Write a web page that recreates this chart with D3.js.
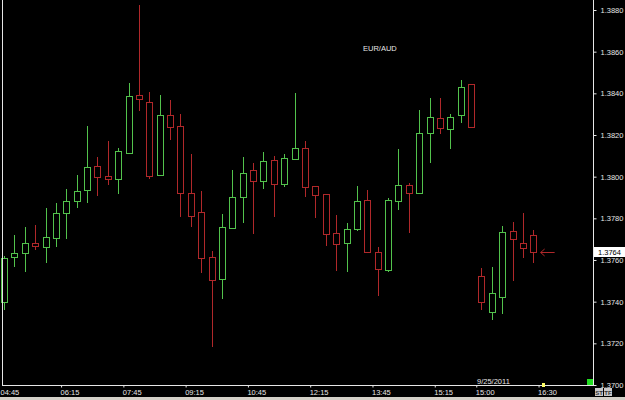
<!DOCTYPE html>
<html lang="en">
<head>
<meta charset="UTF-8"/>
<title>EUR/AUD</title>
<script src="https://d3js.org/d3.v7.min.js"></script>
<style>
    body { margin: 0; background: #000; }
    svg { display: block; }
    .axis text { fill: #e6e6e6; font-family: "Liberation Sans", Arial, sans-serif; font-size: 7.5px; }
    .axis path, .axis line { stroke: #e6e6e6; }
</style>
</head>
<body>
<div id="chart"></div>
<script>
    // 15 minute candles, EUR/AUD
    var opens  = [1.37400,1.37615,1.37635,1.37683,1.37663,1.37707,1.37826,1.37884,1.37937,1.38052,
                  1.38004,1.37989,1.38114,1.38392,1.38359,1.38009,1.38296,1.38244,1.37922,1.37831,
                  1.37615,1.37510,1.37754,1.37903,1.38033,1.37980,1.38081,1.37965,1.38085,1.38138,
                  1.37956,1.37918,1.37730,1.37683,1.37750,1.37889,1.37639,1.37553,1.37884,1.37961,
                  1.37922,1.38210,1.38282,1.38229,1.38296,1.38445,1.37524,1.37352,1.37424,1.37740,
                  1.37683,1.37721];
    var highs  = [1.37620,1.37721,1.37759,1.37769,1.37850,1.37874,1.37942,1.38009,1.38244,1.38095,
                  1.38172,1.38138,1.38450,1.38824,1.38407,1.38392,1.38368,1.38301,1.38109,1.37932,
                  1.37644,1.37822,1.38033,1.38095,1.38066,1.38119,1.38100,1.38109,1.38402,1.38172,
                  1.37956,1.37918,1.37817,1.37778,1.37956,1.37937,1.37663,1.37898,1.38133,1.37970,
                  1.38320,1.38378,1.38378,1.38301,1.38464,1.38445,1.37563,1.37567,1.37764,1.37783,
                  1.37826,1.37745];
    var lows   = [1.37361,1.37567,1.37543,1.37649,1.37587,1.37663,1.37702,1.37850,1.37874,1.37908,
                  1.37961,1.37918,1.38109,1.38316,1.37989,1.38004,1.38177,1.37807,1.37759,1.37539,
                  1.37184,1.37414,1.37750,1.37778,1.37726,1.37942,1.37807,1.37951,1.38085,1.37903,
                  1.37802,1.37668,1.37548,1.37543,1.37740,1.37635,1.37428,1.37543,1.37841,1.37730,
                  1.37918,1.38066,1.38205,1.38133,1.38258,1.38239,1.37361,1.37313,1.37342,1.37500,
                  1.37611,1.37587];
    var closes = [1.37611,1.37635,1.37683,1.37668,1.37711,1.37826,1.37884,1.37932,1.38047,1.37999,
                  1.37989,1.38124,1.38388,1.38373,1.38004,1.38296,1.38239,1.37922,1.37812,1.37611,
                  1.37505,1.37759,1.37903,1.38018,1.37980,1.38076,1.37965,1.38090,1.38138,1.37951,
                  1.37913,1.37726,1.37678,1.37750,1.37884,1.37639,1.37558,1.37889,1.37961,1.37922,
                  1.38210,1.38287,1.38234,1.38287,1.38431,1.38239,1.37400,1.37443,1.37735,1.37702,
                  1.37659,1.37640];

    var timeLabels = ["04:45","06:15","07:45","09:15","10:45","12:15","13:45","15:15","15:00","16:30"];
    var timeSlots  = [0, 6, 12, 18, 24, 30, 36, 42, 46, 52];
    var priceTicks = [1.3700,1.3720,1.3740,1.3760,1.3780,1.3800,1.3820,1.3840,1.3860,1.3880];
    var lastPrice = 1.3764;
    var title = "EUR/AUD";
    var dateLabel = "9/25/2011";

    var w = 625, h = 400;
    var plotLeft = 2, plotRight = 593, plotBottom = 385;
    var green = "#52c24c", red = "#b0282a";

    var data = opens.map(function(o, i) {
        return {i: i, open: o, high: highs[i], low: lows[i], close: closes[i]};
    });

    var svg = d3.select("#chart").append("svg")
        .attr("width", w).attr("height", h);

    svg.append("rect").attr("width", w).attr("height", h).attr("fill", "#000");

    // slot scale: integer = left edge of a 15 min slot
    var xScale = d3.scaleLinear().domain([0, 57]).range([-1.2, -1.2 + 57 * 10.38]);
    var yScale = d3.scaleLinear().domain([1.3700, 1.3880]).range([385, 10]);

    var snap = function(v) { return Math.round(v) + 0.5; };

    // candles
    var candle = svg.append("g").selectAll("g")
        .data(data).enter().append("g")
        .attr("stroke", function(d) { return d.close >= d.open ? green : red; })
        .attr("fill", "#000");

    candle.append("line")
        .attr("x1", function(d) { return snap(xScale(d.i + 0.5)); })
        .attr("x2", function(d) { return snap(xScale(d.i + 0.5)); })
        .attr("y1", function(d) { return Math.round(yScale(d.high)); })
        .attr("y2", function(d) { return Math.round(yScale(d.low)); });

    candle.append("rect")
        .attr("x", function(d) { return snap(xScale(d.i + 0.5)) - 3; })
        .attr("width", 6)
        .attr("y", function(d) { return snap(yScale(Math.max(d.open, d.close))); })
        .attr("height", function(d) {
            return Math.max(2, Math.round(yScale(Math.min(d.open, d.close)) - yScale(Math.max(d.open, d.close))));
        });

    // left border
    svg.append("line")
        .attr("x1", plotLeft + 0.5).attr("x2", plotLeft + 0.5)
        .attr("y1", 0).attr("y2", plotBottom)
        .attr("stroke", "#e6e6e6");

    // time axis
    var xAxis = d3.axisBottom(xScale)
        .tickValues(timeSlots)
        .tickFormat(function(d, k) { return timeLabels[k]; })
        .tickSize(2)
        .tickPadding(3);
    var gx = svg.append("g")
        .attr("class", "axis")
        .attr("transform", "translate(0," + (plotBottom + 0.5) + ")")
        .call(xAxis);
    gx.select(".domain").attr("d", "M" + plotLeft + ",0H" + plotRight);
    gx.selectAll("text")
        .attr("text-anchor", "start")
        .attr("dx", function(d) { return d === 0 ? 1.2 : -1; })
        .attr("dy", "0.6em");

    // price axis
    var yAxis = d3.axisRight(yScale)
        .tickValues(priceTicks)
        .tickFormat(d3.format(".4f"))
        .tickSize(3)
        .tickPadding(4);
    var gy = svg.append("g")
        .attr("class", "axis")
        .attr("transform", "translate(" + (plotRight + 0.5) + ",0)")
        .call(yAxis);
    gy.select(".domain").attr("d", "M0,0V" + (plotBottom + 1));

    // last price marker
    var yl = Math.round(yScale(lastPrice));
    svg.append("rect")
        .attr("x", 594).attr("y", yl - 5).attr("width", 31).attr("height", 10)
        .attr("fill", "#fff");
    svg.append("text")
        .attr("x", 598).attr("y", yl + 2.7)
        .attr("font-family", "Liberation Sans, Arial, sans-serif")
        .attr("font-size", "7.5px").attr("fill", "#000")
        .text(d3.format(".4f")(lastPrice));

    var ax = xScale(52.2);
    svg.append("path")
        .attr("d", "M" + ax + "," + (yl + 0.5) + "H" + (ax + 14) +
              "M" + (ax + 4) + "," + (yl - 3) + "L" + ax + "," + (yl + 0.5) + "L" + (ax + 4) + "," + (yl + 4))
        .attr("stroke", red).attr("fill", "none");

    // title & date
    svg.append("text")
        .attr("x", 363).attr("y", 51)
        .attr("font-family", "Liberation Sans, Arial, sans-serif")
        .attr("font-size", "7.5px").attr("fill", "#e6e6e6")
        .text(title);
    svg.append("text")
        .attr("x", 477).attr("y", 383.5)
        .attr("font-family", "Liberation Sans, Arial, sans-serif")
        .attr("font-size", "7.5px").attr("fill", "#e6e6e6")
        .text(dateLabel);

    // small status widgets
    svg.append("rect").attr("x", 542).attr("y", 383).attr("width", 3).attr("height", 4).attr("fill", "#ffff66");
    svg.append("rect").attr("x", 587).attr("y", 379).attr("width", 6).attr("height", 6).attr("fill", "#22dd22");

    var boxes = [{t: "ST", x: 595}, {t: "TF", x: 604}];
    boxes.forEach(function(b) {
        svg.append("rect").attr("x", b.x).attr("y", 388).attr("width", 8).attr("height", 8).attr("fill", "#c8c8c8");
        svg.append("text").attr("x", b.x + 4).attr("y", 394.5)
            .attr("text-anchor", "middle")
            .attr("font-family", "Liberation Sans, Arial, sans-serif")
            .attr("font-size", "6px").attr("font-weight", "bold").attr("fill", "#333")
            .text(b.t);
    });

    svg.append("rect").attr("x", 0).attr("y", 397).attr("width", w).attr("height", 3).attr("fill", "#d4d0c8");
</script>
</body>
</html>
